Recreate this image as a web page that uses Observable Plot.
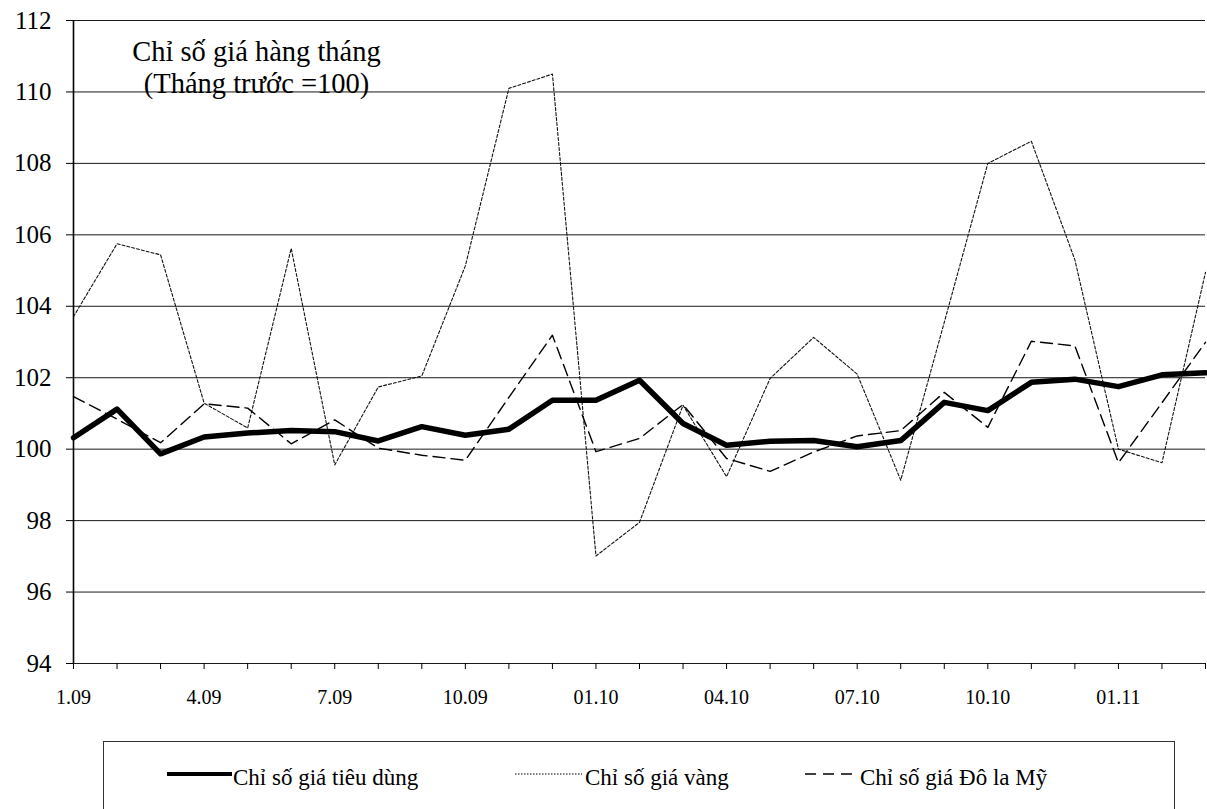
<!DOCTYPE html>
<html>
<head>
<meta charset="utf-8">
<script src="https://cdn.jsdelivr.net/npm/d3@7"></script>
<script src="https://cdn.jsdelivr.net/npm/@observablehq/plot@0.6"></script>
<style>
  body { margin: 0; background: #fff; }
  #wrap { position: relative; width: 1207px; height: 809px; overflow: hidden; background: #fff;
          font-family: "Liberation Serif", "DejaVu Serif", serif; }
  #wrap svg { display: block; }
  #legend { position: absolute; left: 0; top: 720px; }
</style>
</head>
<body>
<div id="wrap"><div id="chart"></div><div id="legend"></div></div>
<script>
// ---- data ----
const months = ["1.09","2.09","3.09","4.09","5.09","6.09","7.09","8.09","9.09","10.09","11.09","12.09",
                "01.10","02.10","03.10","04.10","05.10","06.10","07.10","08.10","09.10","10.10","11.10","12.10",
                "01.11","02.11","03.11"];
const labeledMonths = ["1.09","4.09","7.09","10.09","01.10","04.10","07.10","10.10","01.11"];
const cpi  = [100.32,101.12,99.87,100.34,100.45,100.52,100.49,100.23,100.63,100.39,100.56,101.37,
              101.37,101.93,100.72,100.11,100.22,100.24,100.07,100.24,101.31,101.08,101.87,101.96,
              101.75,102.08,102.14];
const gold = [103.71,105.75,105.44,101.29,100.59,105.62,99.56,101.74,102.05,105.13,110.10,110.50,
              97.01,97.95,101.23,99.23,101.98,103.13,102.10,99.13,103.55,108.00,108.62,105.30,
              100.00,99.62,104.95];
const usd  = [101.47,100.84,100.18,101.27,101.15,100.15,100.82,100.03,99.83,99.69,101.45,103.19,
              99.93,100.30,101.25,99.74,99.38,99.92,100.37,100.52,101.59,100.61,103.02,102.89,
              99.62,101.30,102.99];
const yTicks = [94,96,98,100,102,104,106,108,110,112];
const seriesNames = ["Chỉ số giá tiêu dùng","Chỉ số giá vàng","Chỉ số giá Đô la Mỹ"];
const titleText = "Chỉ số giá hàng tháng\n(Tháng trước =100)";

const rows = months.map((m, i) => ({month: m, cpi: cpi[i], gold: gold[i], usd: usd[i]}));
const FONT = '"Liberation Serif", "DejaVu Serif", serif';

const chart = Plot.plot({
  width: 1207,
  height: 720,
  marginLeft: 73,
  marginRight: 2,
  marginTop: 20,
  marginBottom: 57,
  style: {fontFamily: FONT, background: "white", color: "black"},
  x: {type: "point", domain: months, padding: 0, round: false, label: null},
  y: {domain: [94, 112], label: null},
  marks: [
    Plot.ruleY(yTicks, {stroke: "#1a1a1a", strokeWidth: 1}),
    Plot.ruleX([months[0]], {stroke: "#000", strokeWidth: 1.6}),
    Plot.axisY({ticks: yTicks, tickSize: 7, tickPadding: 15, fontSize: 25, label: null, stroke: "#000"}),
    Plot.axisX({tickSize: 6, tickPadding: 20, fontSize: 20, label: null, stroke: "#000",
                tickFormat: d => labeledMonths.includes(d) ? d : ""}),
    Plot.line(rows, {x: "month", y: "gold", stroke: "#111", strokeWidth: 1.1, strokeDasharray: "3,2"}),
    Plot.line(rows, {x: "month", y: "usd", stroke: "#000", strokeWidth: 1.4, strokeDasharray: "12,6"}),
    Plot.line(rows, {x: "month", y: "cpi", stroke: "#000", strokeWidth: 5.5, strokeLinejoin: "round"}),
    Plot.text([titleText], {text: d => d, frameAnchor: "top-left", dx: 183, dy: 72,
                            lineAnchor: "bottom", textAnchor: "middle", fontSize: 28.5, lineHeight: 1.12, fill: "#000"})
  ]
});
document.getElementById("chart").appendChild(chart);

// ---- legend (below the plot) ----
const leg = d3.select("#legend").append("svg").attr("width", 1207).attr("height", 89)
  .style("font-family", FONT);
leg.append("rect").attr("x", 103.5).attr("y", 21.5).attr("width", 1071).attr("height", 120)
  .attr("fill", "none").attr("stroke", "#333").attr("stroke-width", 1);
const legItems = [
  {x1: 167, x2: 232, tx: 233, w: 4, dash: null},
  {x1: 515, x2: 582, tx: 585, w: 1, dash: "1.5,1.5"},
  {x1: 805, x2: 852, tx: 860, w: 1.3, dash: "11,7"}
];
legItems.forEach((it, i) => {
  leg.append("line").attr("x1", it.x1).attr("x2", it.x2).attr("y1", 54).attr("y2", 54)
    .attr("stroke", "#000").attr("stroke-width", it.w).attr("stroke-dasharray", it.dash);
  leg.append("text").attr("x", it.tx).attr("y", 65).attr("font-size", 23).attr("fill", "#000")
    .text(seriesNames[i]);
});
</script>
</body>
</html>
